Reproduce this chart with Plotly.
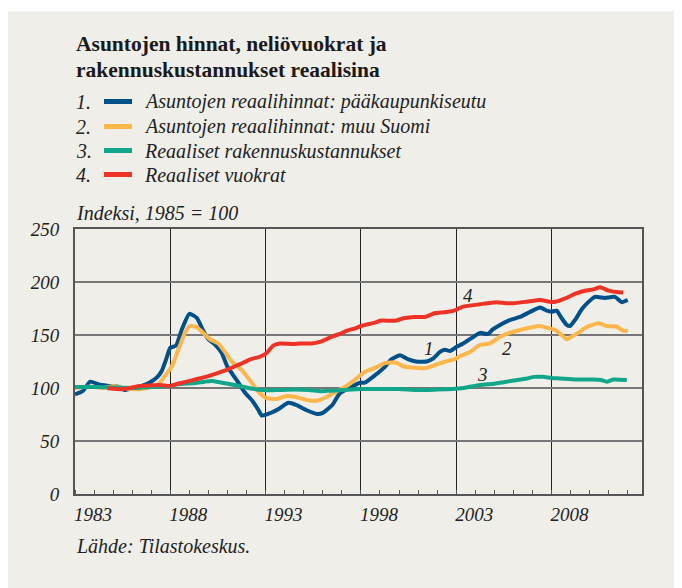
import plotly.graph_objects as go

# ---- data ----
blue_t = [1983.0, 1983.4, 1983.8, 1984.3, 1984.8, 1985.3, 1985.6, 1986.0, 1986.5, 1986.9, 1987.3, 1987.55,
          1987.8, 1988.0, 1988.3, 1988.6, 1989.0, 1989.4, 1989.7, 1990.0, 1990.35, 1990.7, 1991.0, 1991.5,
          1991.9, 1992.3, 1992.6, 1992.8, 1993.2, 1993.75, 1994.2, 1994.6, 1995.15, 1995.7, 1996.0, 1996.5,
          1996.9, 1997.4, 1997.95, 1998.2, 1998.74, 1999.26, 1999.6, 2000.05, 2000.5, 2000.9, 2001.45, 2001.8,
          2002.15, 2002.4, 2002.7, 2003.0, 2003.37, 2003.8, 2004.25, 2004.67, 2004.9, 2005.3, 2005.8, 2006.35,
          2006.9, 2007.4, 2007.75, 2008.0, 2008.27, 2008.53, 2008.8, 2008.97, 2009.23, 2009.6, 2009.93, 2010.28,
          2010.8, 2011.33, 2011.68, 2012.0]
blue_v = [94, 97, 106, 103, 102, 101, 98, 100, 102, 105, 110, 116,
          128, 138, 140, 155, 170, 166, 155, 146, 141, 133, 120, 107,
          96, 88, 80, 74, 76, 81, 86, 84, 79, 75.5, 76.5, 84,
          95, 100, 105, 105, 112, 120, 127, 131, 127, 125, 125, 128,
          134, 136, 135, 138.6, 142, 147, 152, 151, 155, 159.5, 164, 167,
          172, 176, 173, 172, 173, 166, 159.5, 158.5, 164, 174.5, 181, 186,
          185, 186, 181, 183]

orange_t = [1983.0, 1983.5, 1984.0, 1984.5, 1985.0, 1985.5, 1986.0, 1986.5, 1987.0, 1987.46, 1987.7, 1988.07,
            1988.42, 1988.77, 1989.03, 1989.38, 1989.73, 1990.08, 1990.52, 1990.87, 1991.22, 1991.75, 1992.27,
            1992.7, 1993.05, 1993.6, 1994.1, 1994.6, 1995.15, 1995.7, 1996.2, 1996.7, 1997.25, 1997.7, 1998.2,
            1998.74, 1999.26, 1999.8, 2000.3, 2000.8, 2001.36, 2001.9, 2002.4, 2002.9, 2003.2, 2003.72, 2004.25,
            2004.77, 2005.3, 2005.8, 2006.35, 2006.9, 2007.4, 2007.8, 2008.2, 2008.53, 2008.8, 2009.06, 2009.4,
            2009.85, 2010.46, 2010.9, 2011.4, 2011.77, 2012.0]
orange_v = [100, 101, 101, 100, 102, 100, 99, 99, 101, 105, 111, 120,
            136, 152, 158.5, 157.5, 152, 146, 142, 134, 125, 117, 105,
            95, 90.5, 89.6, 92.5, 91.5, 88.7, 88, 91.5, 96.5, 102, 108, 115,
            119, 123.5, 124, 120, 119, 118.6, 121.7, 124.8, 127, 130, 134, 140.6,
            142, 148.4, 152, 154.7, 157, 158.5, 156.6, 154.7, 150, 146, 148.4, 152,
            157.5, 161, 158.5, 158, 154, 154]

green_t = [1983.0, 1984.0, 1985.0, 1986.0, 1987.0, 1987.5, 1988.0, 1988.4, 1989.3, 1989.8, 1990.17, 1990.7,
           1991.4, 1992.1, 1992.8, 1993.5, 1994.5, 1995.3, 1995.9, 1996.4, 1997.0, 1998.0, 1999.0, 2000.0,
           2001.0, 2002.0, 2002.8, 2003.4, 2004.25, 2005.0, 2005.5, 2006.0, 2006.7, 2007.1, 2007.55, 2008.0,
           2008.45, 2009.3, 2010.2, 2010.6, 2010.9, 2011.25, 2011.95]
green_v = [101, 101, 100.5, 100, 101, 101.5, 102, 103.6, 104.7, 106, 106.6, 105,
           102.8, 100, 98, 98, 98.5, 98, 97, 97.5, 98, 99, 99, 99,
           98, 98.5, 99, 100, 102.8, 104, 105.5, 107, 109, 110.5, 110.5, 109.5,
           109, 108, 108, 107.5, 106, 108, 107.5]

red_t = [1984.7, 1985.2, 1985.55, 1986.0, 1986.4, 1987.0, 1987.46, 1988.0, 1988.4, 1988.86, 1989.4, 1989.9,
         1990.4, 1990.96, 1991.4, 1991.8, 1992.2, 1992.7, 1993.06, 1993.4, 1993.75, 1994.45, 1994.8, 1995.4,
         1995.85, 1996.55, 1996.9, 1997.25, 1997.7, 1998.0, 1998.74, 1999.0, 1999.8, 2000.3, 2000.8, 2001.36,
         2001.9, 2002.4, 2002.9, 2003.37, 2004.25, 2005.1, 2005.6, 2006.0, 2006.7, 2007.4, 2007.9, 2008.2,
         2008.73, 2009.23, 2009.76, 2010.2, 2010.55, 2011.0, 2011.4, 2011.77]
red_v = [99.7, 99, 99, 100.5, 102, 102.5, 102.8, 102, 104, 106, 108.5, 110.7,
         113.5, 117, 120.5, 123.6, 127, 129.5, 133, 140, 142, 141.5, 142, 142,
         143.5, 149, 151, 154, 156.3, 158.5, 161.6, 163.5, 163.5, 166, 167, 167,
         170.7, 171.5, 173, 176.7, 179, 181, 180, 180, 181.4, 183, 181.4, 181.4,
         184.6, 188.7, 191.8, 193, 195, 191.8, 190.5, 190]

series_names = ["Asuntojen reaalihinnat: pääkaupunkiseutu",
                "Asuntojen reaalihinnat: muu Suomi",
                "Reaaliset rakennuskustannukset",
                "Reaaliset vuokrat"]
series_colors = ["#00508C", "#FDB64A", "#11A68A", "#EE3326"]

x_tick_vals = [1983, 1988, 1993, 1998, 2003, 2008]
x_tick_text = ["1983", "1988", "1993", "1998", "2003", "2008"]
y_tick_vals = [0, 50, 100, 150, 200, 250]

# inline labels: (text, x, y)
line_labels = [("1", 2001.6, 137.5), ("2", 2005.65, 137.5), ("3", 2004.4, 112.3), ("4", 2003.6, 187.7)]

BG = "#EFEEE8"
SERIF = "Liberation Serif"
OFF = 8  # page body margin offset

fig = go.Figure()
for t, v, name, col in zip([blue_t, orange_t, green_t, red_t], [blue_v, orange_v, green_v, red_v],
                           series_names, series_colors):
    fig.add_trace(go.Scatter(x=t, y=v, mode="lines", name=name,
                             line=dict(color=col, width=4, shape="spline", smoothing=0.5),
                             showlegend=False, hoverinfo="skip"))

annotations = []
for txt, lx, ly in line_labels:
    annotations.append(dict(x=lx, y=ly, xref="x", yref="y", text=txt, showarrow=False,
                            font=dict(family=SERIF, size=19, color="#222", style="italic")))

# plot area in page pixels: left 75, right 642, top 229, bottom 494
PL, PR, PT, PB = 75, 642, 229, 494
def px(x):
    return (x - PL) / (PR - PL)
def py(y):
    return (PB - y) / (PB - PT)

# title
annotations.append(dict(x=px(74), y=py(44), xref="paper", yref="paper", xanchor="left", yanchor="middle",
                        text="Asuntojen hinnat, neliövuokrat ja", showarrow=False,
                        font=dict(family=SERIF, size=21.5, color="#1a1a1a", weight="bold")))
annotations.append(dict(x=px(74), y=py(70), xref="paper", yref="paper", xanchor="left", yanchor="middle",
                        text="rakennuskustannukset reaalisina", showarrow=False,
                        font=dict(family=SERIF, size=21.5, color="#1a1a1a", weight="bold")))

shapes = []
# white strip at the top of the page
shapes.append(dict(type="rect", xref="paper", yref="paper", x0=px(-5), x1=px(700), y0=py(11), y1=py(-5),
                   fillcolor="white", line=dict(width=0), layer="below"))

legend_rows = [101.5, 126.5, 150.5, 174.5]
for i, (name, col, ry) in enumerate(zip(series_names, series_colors, legend_rows)):
    annotations.append(dict(x=px(74), y=py(ry), xref="paper", yref="paper", xanchor="left", yanchor="middle",
                            text=f"{i+1}.", showarrow=False,
                            font=dict(family=SERIF, size=20, color="#222", style="italic")))
    shapes.append(dict(type="line", xref="paper", yref="paper", x0=px(104), x1=px(132), y0=py(ry), y1=py(ry),
                       line=dict(color=col, width=5)))
    annotations.append(dict(x=px(142), y=py(ry), xref="paper", yref="paper", xanchor="left", yanchor="middle",
                            text=name, showarrow=False,
                            font=dict(family=SERIF, size=20, color="#222", style="italic")))

annotations.append(dict(x=px(74), y=py(213), xref="paper", yref="paper", xanchor="left", yanchor="middle",
                        text="Indeksi, 1985 = 100", showarrow=False,
                        font=dict(family=SERIF, size=20, color="#222", style="italic")))
annotations.append(dict(x=px(74), y=py(546), xref="paper", yref="paper", xanchor="left", yanchor="middle",
                        text="Lähde: Tilastokeskus.", showarrow=False,
                        font=dict(family=SERIF, size=20, color="#222", style="italic")))

fig.update_layout(
    width=682, height=588,
    margin=dict(l=PL - OFF, r=682 - PR + OFF, t=PT - OFF, b=588 - PB + OFF, pad=0),
    paper_bgcolor=BG, plot_bgcolor=BG,
    annotations=annotations, shapes=shapes,
    showlegend=False,
)
fig.update_xaxes(range=[1983, 2012.75], tickvals=x_tick_vals, ticktext=x_tick_text,
                 showgrid=True, gridcolor="#222", gridwidth=1,
                 showline=True, linecolor="#555", linewidth=2, mirror=True,
                 ticks="", ticklabelshift=18, ticklabelstandoff=2,
                 tickfont=dict(family=SERIF, size=19, color="#222", style="italic"),
                 minor=dict(dtick=1, tick0=1983, ticks="inside", ticklen=4, tickcolor="#555", tickwidth=1,
                            showgrid=False),
                 zeroline=False)
fig.update_yaxes(range=[0, 250], tickvals=y_tick_vals,
                 showgrid=True, gridcolor="#777", gridwidth=1.5,
                 showline=True, linecolor="#555", linewidth=2, mirror=True,
                 ticks="", ticklabelstandoff=10,
                 tickfont=dict(family=SERIF, size=19, color="#222", style="italic"),
                 zeroline=False)

fig.write_html("out.html")
